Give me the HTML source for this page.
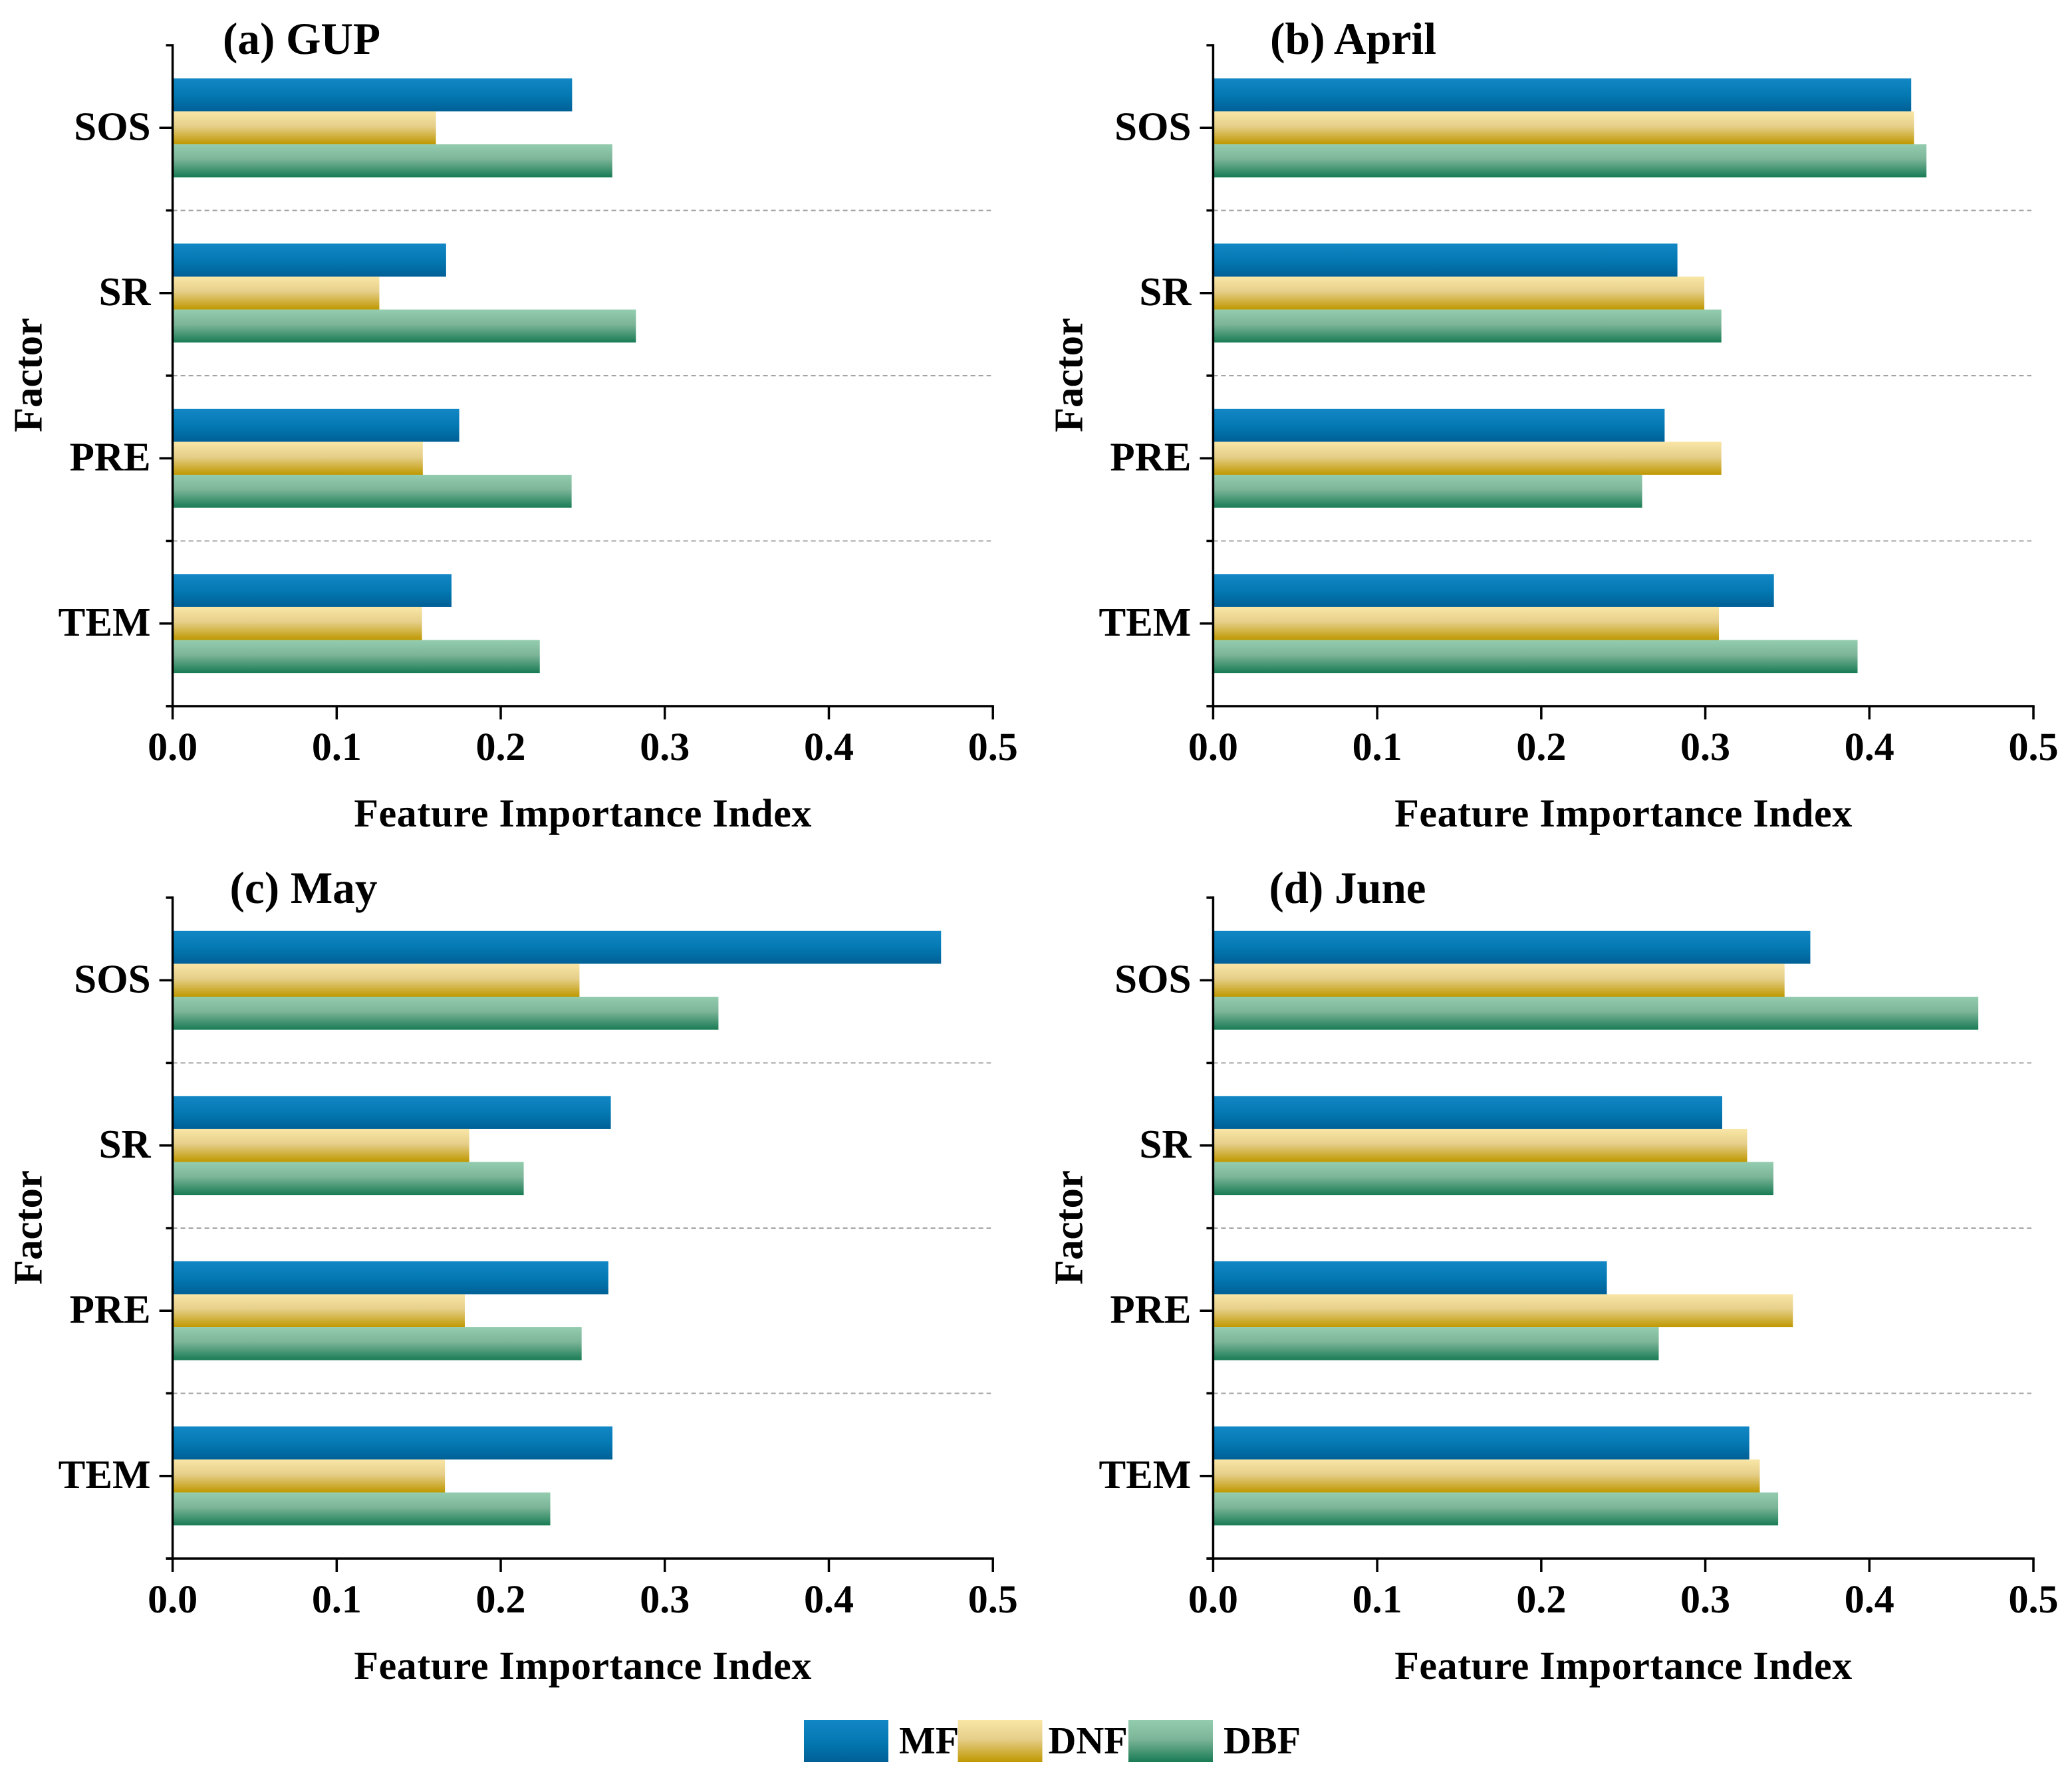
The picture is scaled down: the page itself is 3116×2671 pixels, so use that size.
<!DOCTYPE html>
<html lang="en">
<head>
<meta charset="utf-8">
<title>Feature importance by factor and forest type</title>
<style>
  html, body { margin: 0; padding: 0; background: #fff; }
  #chart { display: block; width: 3116px; height: 2671px; }
  text { font-family: "Liberation Serif", serif; font-weight: 700; fill: #000; text-rendering: geometricPrecision; }
</style>
</head>
<body>
<svg id="chart" xmlns="http://www.w3.org/2000/svg" width="3116" height="2671" viewBox="0 0 3116 2671">
  <defs>
    <linearGradient id="grad-mf" x1="0" y1="0" x2="0" y2="1">
      <stop offset="0" stop-color="#1287c5"/><stop offset="0.5" stop-color="#0479b3"/><stop offset="1" stop-color="#006096"/>
    </linearGradient>
    <linearGradient id="grad-dnf" x1="0" y1="0" x2="0" y2="1">
      <stop offset="0" stop-color="#f9e6a6"/><stop offset="0.45" stop-color="#e6cf8a"/><stop offset="1" stop-color="#bf9800"/>
    </linearGradient>
    <linearGradient id="grad-dbf" x1="0" y1="0" x2="0" y2="1">
      <stop offset="0" stop-color="#93ccaf"/><stop offset="0.45" stop-color="#7cb598"/><stop offset="1" stop-color="#187b54"/>
    </linearGradient>
  </defs>
</svg>
<script>
const categories = ['SOS', 'SR', 'PRE', 'TEM'];
const seriesNames = ['MF', 'DNF', 'DBF'];
const xTickValues = [0, 0.1, 0.2, 0.3, 0.4, 0.5];
const xTickLabels = ['0.0', '0.1', '0.2', '0.3', '0.4', '0.5'];
const xMax = 0.5;

const gupMF = [0.2435, 0.1667, 0.1747, 0.170];
const gupDNF = [0.1605, 0.126, 0.1525, 0.152];
const gupDBF = [0.268, 0.2824, 0.2432, 0.2238];

const aprilMF = [0.4255, 0.283, 0.2752, 0.3418];
const aprilDNF = [0.4272, 0.2994, 0.3098, 0.3083];
const aprilDBF = [0.4348, 0.3098, 0.2615, 0.3928];

const mayMF = [0.4684, 0.2671, 0.2656, 0.2681];
const mayDNF = [0.248, 0.1808, 0.1781, 0.166];
const mayDBF = [0.3327, 0.214, 0.2493, 0.2302];

const juneMF = [0.364, 0.3103, 0.24, 0.3268];
const juneDNF = [0.3483, 0.3255, 0.3534, 0.3332];
const juneDBF = [0.4664, 0.3415, 0.2716, 0.3444];

const panels = [
  { key: 'gup', title: '(a) GUP', titleX: 335, titleLen: 237, left: 259.6, top: 68, titleY: 81, values: [gupMF, gupDNF, gupDBF] },
  { key: 'april', title: '(b) April', titleX: 1910, titleLen: 250, left: 1824.4, top: 68, titleY: 81, values: [aprilMF, aprilDNF, aprilDBF] },
  { key: 'may', title: '(c) May', titleX: 345.5, titleLen: 222, left: 259.6, top: 1350, titleY: 1358, values: [mayMF, mayDNF, mayDBF] },
  { key: 'june', title: '(d) June', titleX: 1908.5, titleLen: 236, left: 1824.4, top: 1350, titleY: 1358, values: [juneMF, juneDNF, juneDBF] }
];

const NS = 'http://www.w3.org/2000/svg';
const svg = document.getElementById('chart');
const plotWidth = 1233.6;
const plotHeight = 994;
const barFill = ['url(#grad-mf)', 'url(#grad-dnf)', 'url(#grad-dbf)'];
const barThickness = 49.6;

function make(parent, tag, attrs, content) {
  const el = document.createElementNS(NS, tag);
  for (const k in attrs) el.setAttribute(k, attrs[k]);
  if (content !== undefined) el.textContent = content;
  parent.appendChild(el);
  return el;
}

function drawPanel(p) {
  const xScale = function (v) { return p.left + (v / xMax) * plotWidth; };
  const catHeight = plotHeight / categories.length;
  const yCenter = function (i) { return p.top + catHeight * (i + 0.5); };
  const bottom = p.top + plotHeight;

  const g = make(svg, 'g', {});
  
  

  const title = make(g, 'text', { x: p.titleX, y: p.titleY, 'font-size': 68, textLength: p.titleLen, lengthAdjust: 'spacingAndGlyphs' }, p.title);
  
  

  for (let i = 1; i < categories.length; i++) {
    const gy = p.top + catHeight * i;
    const grid = make(g, 'line', { x1: p.left, x2: xScale(xMax) - 3, y1: gy, y2: gy, stroke: '#a3a3a3', 'stroke-width': 2, 'stroke-dasharray': '7 5' });
    
    
  }

  categories.forEach(function (cat, i) {
    seriesNames.forEach(function (s, j) {
      const y = yCenter(i) + (j - 1.5) * barThickness;
      const bar = make(g, 'rect', { x: p.left, y: y, width: xScale(p.values[j][i]) - p.left, height: barThickness, fill: barFill[j] });
      
      
    });

    const tick = make(g, 'line', { x1: p.left - 20, x2: p.left, y1: yCenter(i), y2: yCenter(i), stroke: '#000', 'stroke-width': 3.5 });
    
    

    const label = make(g, 'text', { x: p.left - 33, y: yCenter(i) + 18, 'font-size': 61, 'text-anchor': 'end' }, cat);
    
    
  });

  for (let i = 0; i <= categories.length; i++) {
    const my = p.top + catHeight * i;
    const minor = make(g, 'line', { x1: p.left - 10, x2: p.left, y1: my, y2: my, stroke: '#000', 'stroke-width': 3.5 });
    
    
  }

  const yAxis = make(g, 'line', { x1: p.left, x2: p.left, y1: p.top - 1.7, y2: bottom + 1.7, stroke: '#000', 'stroke-width': 3.5 });
  
  

  const xAxis = make(g, 'line', { x1: p.left - 10, x2: xScale(xMax) + 1.7, y1: bottom, y2: bottom, stroke: '#000', 'stroke-width': 3.5 });
  
  

  xTickValues.forEach(function (v, i) {
    const tx = xScale(v);
    const tick = make(g, 'line', { x1: tx, x2: tx, y1: bottom, y2: bottom + 20, stroke: '#000', 'stroke-width': 3.5 });
    
    

    const label = make(g, 'text', { x: tx, y: bottom + 81, 'font-size': 60, 'text-anchor': 'middle' }, xTickLabels[i]);
    
    
  });

  const xTitle = make(g, 'text', { x: p.left + plotWidth / 2, y: bottom + 181, 'font-size': 60, 'text-anchor': 'middle', textLength: 688, lengthAdjust: 'spacing' }, 'Feature Importance Index');
  
  

  const yTitleX = p.left - 197;
  const yTitleY = p.top + plotHeight / 2 - 1;
  const yTitle = make(g, 'text', { x: yTitleX, y: yTitleY, 'font-size': 61, 'text-anchor': 'middle', textLength: 172, lengthAdjust: 'spacingAndGlyphs', transform: 'rotate(-90 ' + yTitleX + ' ' + yTitleY + ')' }, 'Factor');
  
  
}

panels.forEach(drawPanel);

const legendBoxX = [1209, 1440.5, 1697];
const legendLabelX = [1352, 1576.5, 1840];
const legend = make(svg, 'g', {});


seriesNames.forEach(function (s, j) {
  const box = make(legend, 'rect', { x: legendBoxX[j], y: 2587, width: 127, height: 63, fill: barFill[j] });
  
  
  const label = make(legend, 'text', { x: legendLabelX[j], y: 2637, 'font-size': 58 }, s);
  
  
});
</script>
</body>
</html>
